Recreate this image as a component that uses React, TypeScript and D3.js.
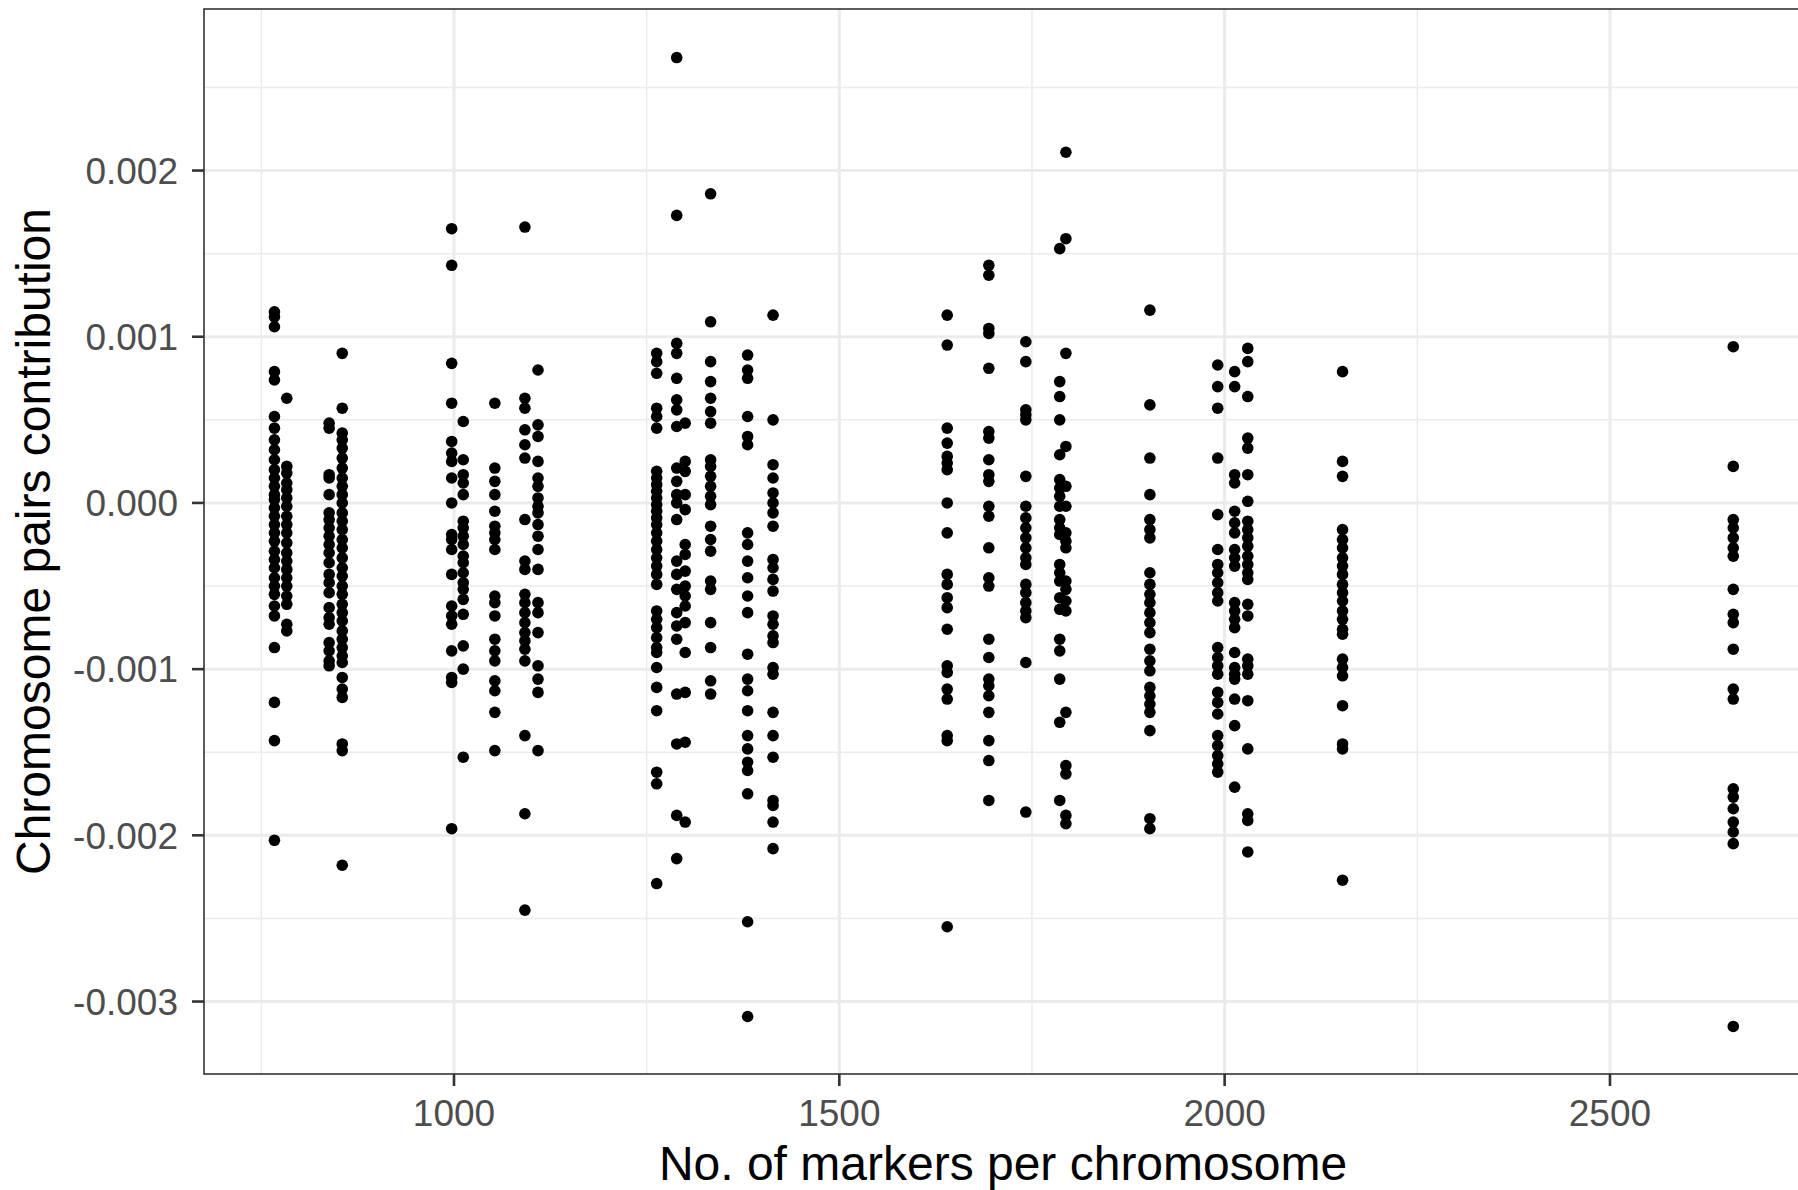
import React from "react";
import * as d3 from "d3";

// Number of markers per chromosome (x positions of each column)
const markersPerChromosome = [
  767, 783, 838, 855, 997, 1012, 1053, 1092, 1109, 1263, 1289, 1300, 1333,
  1381, 1414, 1640, 1694, 1742, 1786, 1794, 1903, 1991, 2013, 2030, 2153, 2660,
];

// Chromosome pairs contribution for each chromosome (units of 1e-4)
const chr01 = [11.5, 11.2, 10.6, 7.9, 7.4, 5.2, 4.5, 3.8, 3.2, 2.6, 2.0, 1.5, 1.0, 0.5, 0.2, -0.3, -0.8, -1.3, -1.8, -2.3, -2.9, -3.4, -3.9, -4.5, -5.0, -5.5, -6.2, -6.8, -8.7, -12.0, -14.3, -20.3];
const chr02 = [6.3, 2.2, 1.8, 1.2, 0.8, 0.3, -0.2, -0.8, -1.3, -1.8, -2.4, -3.0, -3.5, -4.0, -4.5, -5.0, -5.6, -6.1, -7.3, -7.7];
const chr03 = [4.8, 4.5, 1.7, 1.5, 0.5, -0.6, -1.0, -1.5, -2.0, -2.5, -3.0, -3.6, -4.3, -4.8, -5.4, -6.3, -6.9, -7.3, -8.4, -8.9, -9.5, -9.8];
const chr04 = [9.0, 5.7, 4.2, 3.8, 3.3, 2.7, 2.1, 1.5, 1.0, 0.5, 0.0, -0.6, -1.1, -1.6, -2.2, -2.7, -3.3, -3.9, -4.4, -5.0, -5.5, -6.1, -6.6, -7.1, -7.7, -8.2, -8.7, -9.2, -9.6, -10.5, -11.2, -11.7, -14.5, -14.9, -21.8];
const chr05 = [16.5, 14.3, 8.4, 6.0, 3.7, 3.0, 2.5, 1.5, 0.0, -1.9, -2.2, -2.8, -4.3, -6.2, -6.8, -7.3, -8.9, -10.5, -10.8, -19.6];
const chr06 = [4.9, 2.6, 1.7, 1.2, 0.5, -1.1, -1.5, -2.0, -2.5, -3.2, -3.6, -4.2, -4.8, -5.2, -5.8, -6.7, -8.6, -10.0, -15.3];
const chr07 = [6.0, 2.1, 1.3, 0.5, -0.5, -1.4, -1.8, -2.2, -2.8, -5.6, -6.0, -6.8, -8.2, -8.9, -9.5, -10.7, -11.3, -12.6, -14.9];
const chr08 = [16.6, 6.3, 5.7, 4.4, 3.5, 2.7, -1.0, -3.5, -4.0, -5.5, -6.0, -6.6, -7.2, -7.8, -8.3, -8.8, -9.5, -14.0, -18.7, -24.5];
const chr09 = [8.0, 4.7, 4.0, 2.5, 1.5, 1.0, 0.3, -0.2, -0.6, -1.3, -2.0, -2.8, -4.0, -6.0, -6.6, -7.8, -9.8, -10.6, -11.4, -14.9];
const chr10 = [9.0, 8.5, 7.8, 5.7, 5.2, 4.5, 1.9, 1.5, 1.1, 0.7, 0.3, -0.1, -0.5, -0.9, -1.3, -1.8, -2.3, -2.8, -3.3, -3.8, -4.3, -4.9, -6.5, -7.0, -7.5, -8.1, -8.7, -9.0, -9.9, -11.1, -12.5, -16.2, -16.9, -22.9];
const chr11 = [26.8, 17.3, 9.6, 9.0, 7.5, 6.2, 5.6, 4.6, 2.1, 1.3, 0.5, 0.0, -1.0, -3.5, -4.3, -5.2, -6.6, -7.4, -8.2, -11.5, -14.5, -18.8, -21.4];
const chr12 = [4.8, 2.5, 1.9, 0.5, -0.4, -2.5, -3.1, -4.1, -5.0, -5.6, -6.2, -7.2, -9.0, -11.4, -14.4, -19.2];
const chr13 = [18.6, 10.9, 8.5, 7.3, 6.3, 5.5, 4.8, 2.6, 2.2, 1.6, 1.0, 0.4, -0.1, -1.4, -2.2, -2.9, -4.7, -5.2, -7.2, -8.7, -10.7, -11.5];
const chr14 = [8.9, 8.0, 7.5, 5.2, 4.0, 3.5, -1.8, -2.5, -3.5, -4.5, -5.6, -6.6, -9.1, -10.6, -11.3, -12.5, -14.0, -14.8, -15.6, -16.1, -17.5, -25.2, -30.9];
const chr15 = [11.3, 5.0, 2.3, 1.5, 0.6, 0.0, -0.6, -1.4, -3.4, -3.9, -4.6, -5.3, -6.8, -7.3, -8.0, -8.4, -9.9, -10.3, -12.6, -14.0, -15.3, -17.9, -18.2, -19.2, -20.8];
const chr16 = [11.3, 9.5, 4.5, 3.6, 2.8, 2.4, 2.0, 0.0, -1.8, -4.3, -4.9, -5.7, -6.3, -7.6, -9.8, -10.2, -11.2, -11.8, -14.0, -14.3, -25.5];
const chr17 = [14.3, 13.7, 10.5, 10.2, 8.1, 4.3, 3.9, 2.6, 1.7, 1.3, -0.2, -0.8, -2.7, -4.5, -5.0, -8.2, -9.3, -10.6, -11.0, -11.6, -12.6, -14.3, -15.5, -17.9];
const chr18 = [9.7, 8.5, 5.6, 5.3, 5.0, 1.6, -0.2, -0.9, -1.5, -2.1, -2.7, -3.3, -3.7, -4.9, -5.4, -6.0, -6.5, -6.9, -9.6, -18.6];
const chr19 = [15.3, 7.3, 6.4, 5.0, 2.9, 1.4, 0.9, 0.4, -0.2, -1.0, -1.5, -1.9, -3.7, -4.2, -4.7, -5.7, -6.4, -8.2, -8.9, -10.6, -13.2, -17.9];
const chr20 = [21.1, 15.9, 9.0, 3.4, 1.0, -0.2, -1.8, -2.3, -2.7, -4.7, -5.2, -5.9, -6.5, -12.6, -15.8, -16.3, -18.8, -19.3];
const chr21 = [11.6, 5.9, 2.7, 0.5, -1.0, -1.6, -2.1, -4.2, -4.9, -5.5, -6.0, -6.6, -7.2, -7.8, -8.8, -9.5, -10.1, -11.1, -11.6, -12.1, -12.6, -13.7, -19.0, -19.6];
const chr22 = [8.3, 7.0, 5.7, 2.7, -0.7, -2.8, -3.7, -4.2, -4.8, -5.4, -5.9, -8.7, -9.3, -9.8, -10.3, -11.4, -12.0, -12.7, -14.0, -14.6, -15.2, -15.7, -16.2];
const chr23 = [7.9, 7.0, 1.7, 1.2, -0.5, -1.2, -1.8, -2.8, -3.3, -3.8, -6.0, -6.5, -7.0, -7.5, -9.0, -9.9, -10.3, -10.6, -11.8, -13.4, -17.1];
const chr24 = [9.3, 8.5, 6.4, 3.9, 3.3, 1.7, 0.1, -1.1, -1.6, -2.1, -2.6, -3.2, -3.7, -4.2, -4.6, -6.1, -6.8, -9.4, -9.8, -10.3, -11.9, -14.8, -18.7, -19.1, -21.0];
const chr25 = [7.9, 2.5, 1.6, -1.6, -2.2, -2.7, -3.3, -3.8, -4.3, -4.9, -5.4, -5.9, -6.5, -7.0, -7.6, -7.9, -9.4, -9.9, -10.4, -12.2, -14.5, -14.8, -22.7];
const chr26 = [9.4, 2.2, -1.0, -1.5, -2.1, -2.7, -3.2, -5.2, -6.7, -7.2, -8.8, -11.2, -11.8, -17.2, -17.7, -18.4, -19.2, -19.8, -20.5, -31.5];

const contributionColumns = [
  chr01, chr02, chr03, chr04, chr05, chr06, chr07, chr08, chr09, chr10, chr11, chr12, chr13,
  chr14, chr15, chr16, chr17, chr18, chr19, chr20, chr21, chr22, chr23, chr24, chr25, chr26,
];

const xTicks = [1000, 1500, 2000, 2500];
const xMinorTicks = [750, 1250, 1750, 2250];
const yTicks = [-0.003, -0.002, -0.001, 0, 0.001, 0.002];
const yMinorTicks = [-0.0025, -0.0015, -0.0005, 0.0005, 0.0015, 0.0025];

const xTitle = "No. of markers per chromosome";
const yTitle = "Chromosome pairs contribution";

export default function App() {
  const W = 1798;
  const H = 1190;
  const left = 204;
  const right = 1800;
  const top = 9;
  const bottom = 1074;

  const x = d3.scaleLinear().domain([675.6, 2744]).range([left, 1798]);
  const y = d3.scaleLinear().domain([-0.003436, 0.002972]).range([bottom, top]);

  const points: { mx: number; v: number }[] = [];
  markersPerChromosome.forEach((m, i) => {
    contributionColumns[i].forEach((v) => points.push({ mx: m, v: v * 1e-4 }));
  });

  const font = "'Liberation Sans', Arial, Helvetica, sans-serif";
  const fmt = (t: number) => t.toFixed(3).replace("\u2212", "-");

  return (
    <svg
      width={W}
      height={H}
      style={{ position: "absolute", left: 0, top: 0, background: "#fff" }}
      fontFamily={font}
    >
      <rect x={0} y={0} width={W} height={H} fill="#fff" />
      <clipPath id="panel">
        <rect x={left} y={top} width={right - left} height={bottom - top} />
      </clipPath>
      <g clipPath="url(#panel)">
        {yMinorTicks.map((t) => (
          <line key={"ym" + t} x1={left} x2={right} y1={y(t)} y2={y(t)} stroke="#EBEBEB" strokeWidth={1.5} />
        ))}
        {xMinorTicks.map((t) => (
          <line key={"xm" + t} x1={x(t)} x2={x(t)} y1={top} y2={bottom} stroke="#EBEBEB" strokeWidth={1.5} />
        ))}
        {yTicks.map((t) => (
          <line key={"yM" + t} x1={left} x2={right} y1={y(t)} y2={y(t)} stroke="#EBEBEB" strokeWidth={3} />
        ))}
        {xTicks.map((t) => (
          <line key={"xM" + t} x1={x(t)} x2={x(t)} y1={top} y2={bottom} stroke="#EBEBEB" strokeWidth={3} />
        ))}
        {points.map((p, i) => (
          <circle key={i} cx={x(p.mx)} cy={y(p.v)} r={5.8} fill="#000" />
        ))}
      </g>
      <rect
        x={left}
        y={top}
        width={right - left}
        height={bottom - top}
        fill="none"
        stroke="#333333"
        strokeWidth={1.6}
      />
      {yTicks.map((t) => (
        <g key={"yt" + t}>
          <line x1={left - 12} x2={left} y1={y(t)} y2={y(t)} stroke="#333333" strokeWidth={2.6} />
          <text
            x={178}
            y={y(t)}
            dy="0.36em"
            textAnchor="end"
            fontSize={37}
            fill="#4D4D4D"
          >
            {fmt(t)}
          </text>
        </g>
      ))}
      {xTicks.map((t) => (
        <g key={"xt" + t}>
          <line x1={x(t)} x2={x(t)} y1={bottom} y2={bottom + 12} stroke="#333333" strokeWidth={2.6} />
          <text x={x(t)} y={1126} textAnchor="middle" fontSize={37} fill="#4D4D4D">
            {t}
          </text>
        </g>
      ))}
      <text x={1003} y={1180} textAnchor="middle" fontSize={48} fill="#000">
        {xTitle}
      </text>
      <text
        transform={`translate(50, ${(top + bottom) / 2}) rotate(-90)`}
        textAnchor="middle"
        fontSize={48}
        fill="#000"
      >
        {yTitle}
      </text>
    </svg>
  );
}
